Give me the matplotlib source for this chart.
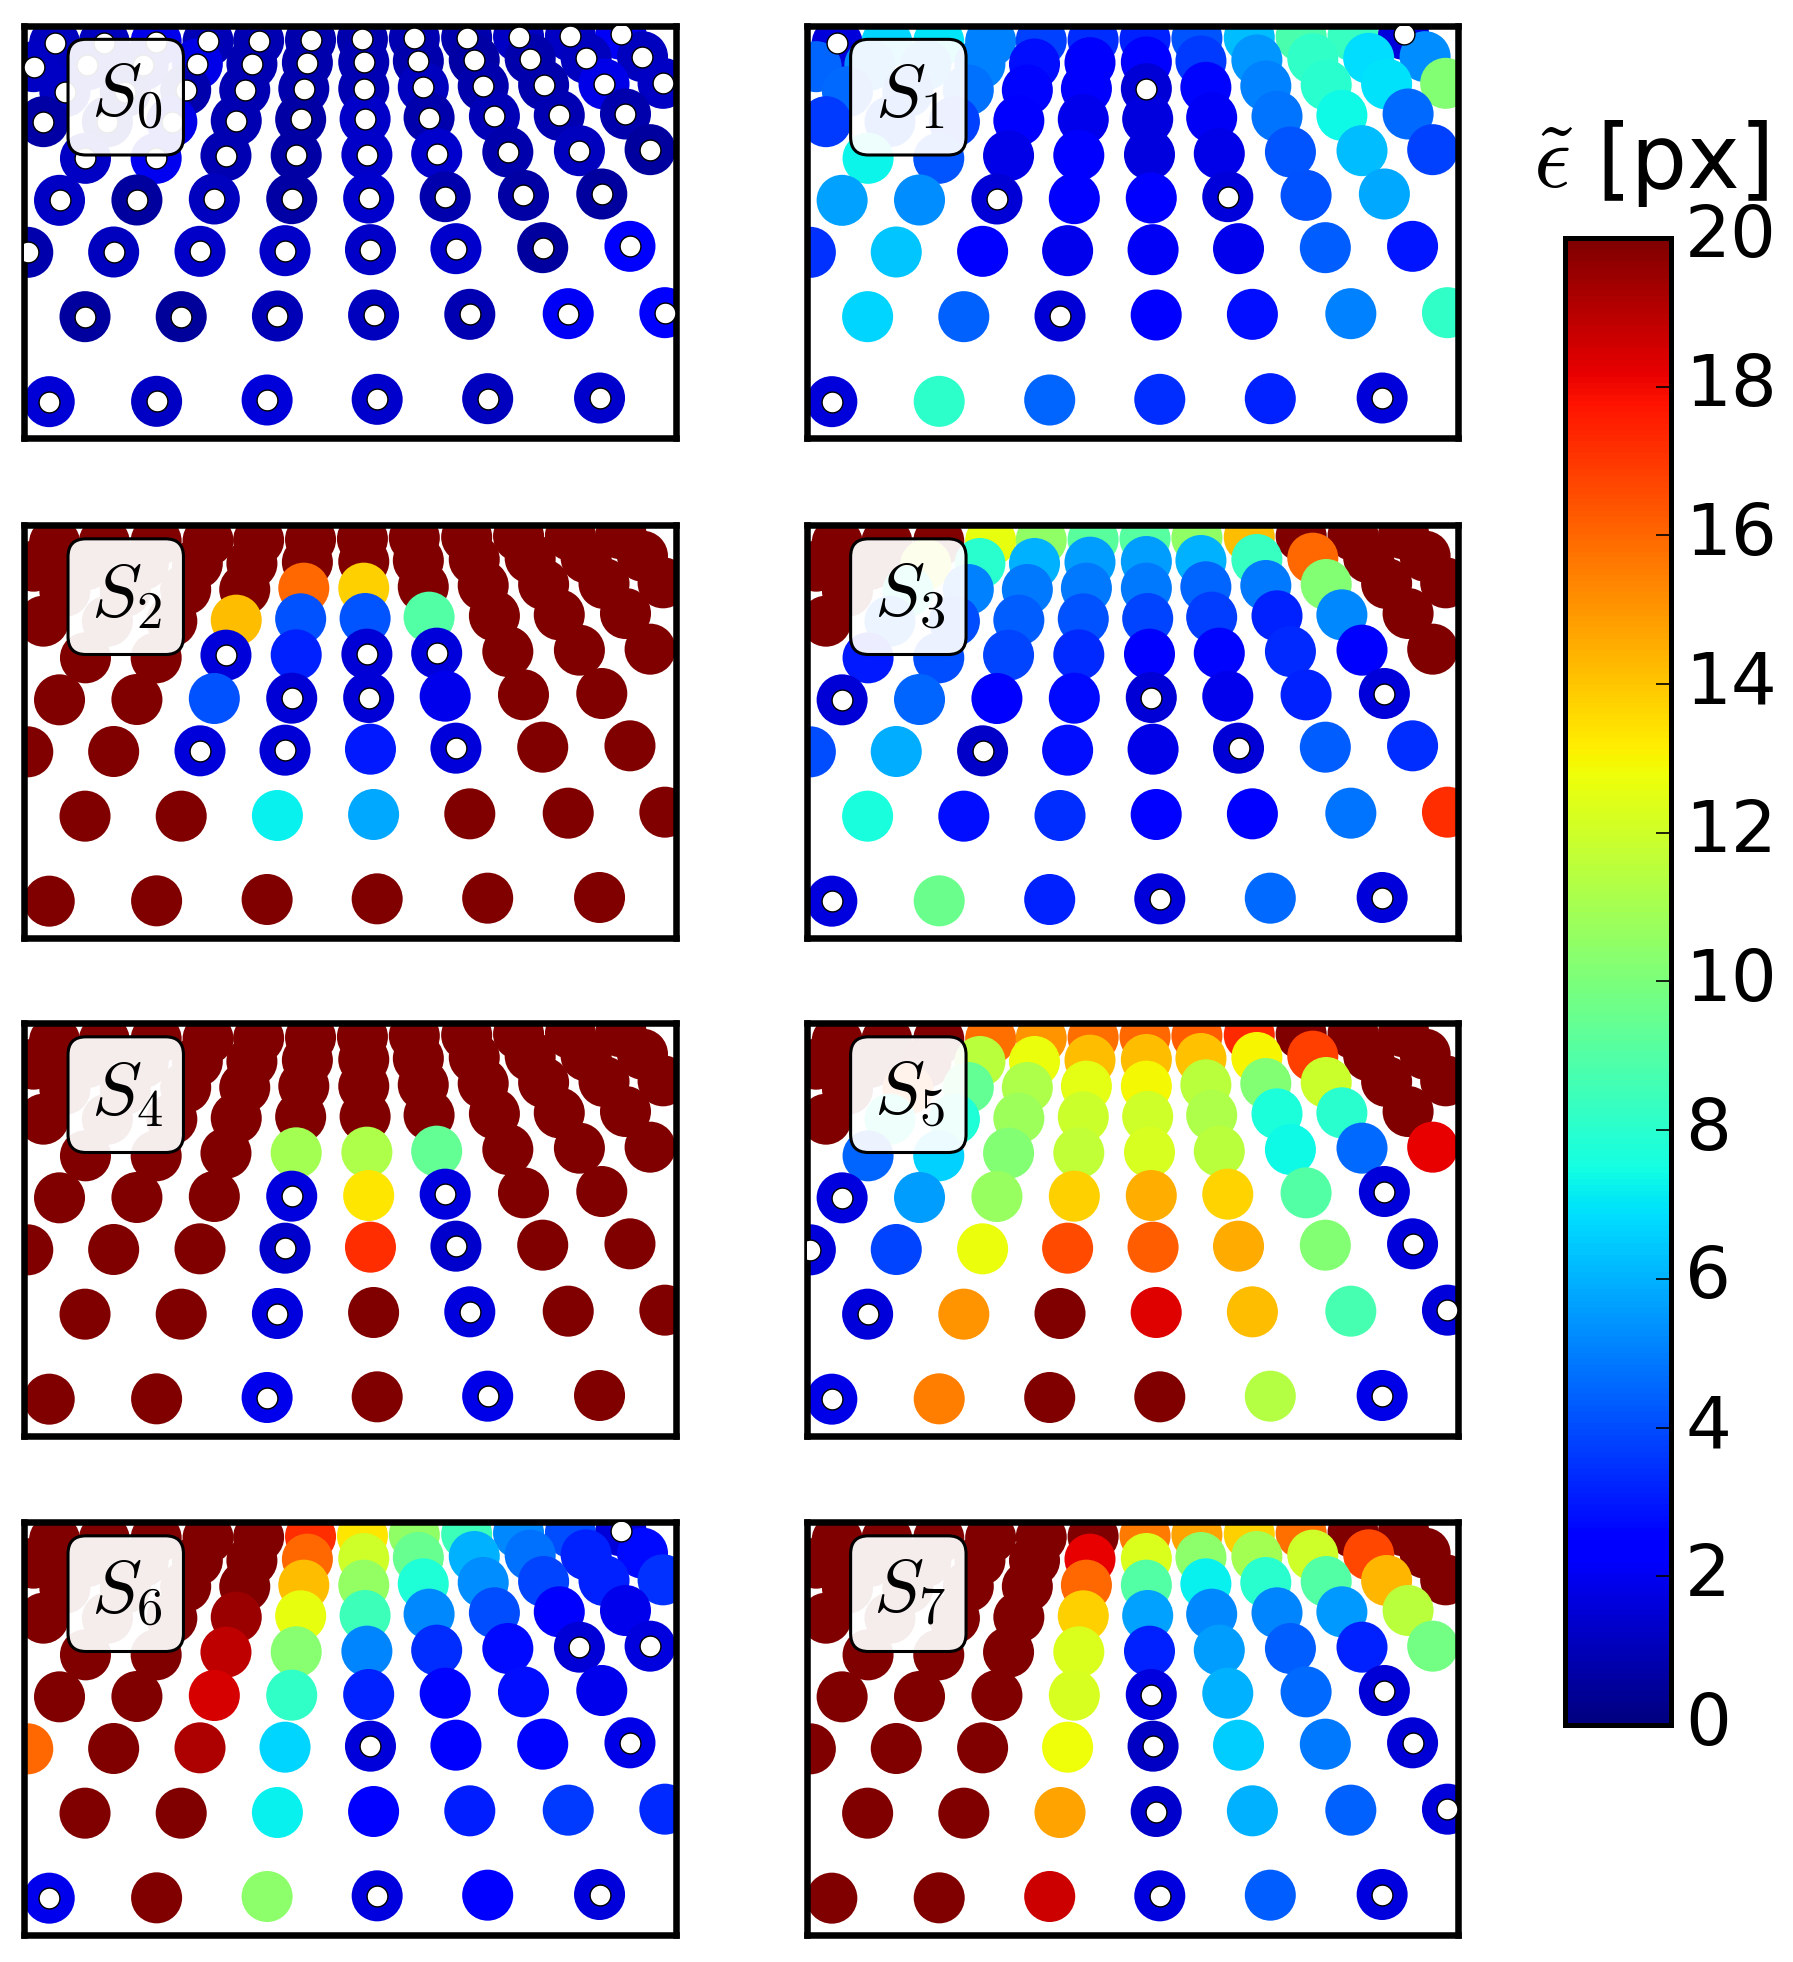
import numpy as np
from matplotlib import pyplot as plt
from matplotlib.cm import ScalarMappable
from matplotlib.colors import Normalize
from matplotlib.patches import FancyBboxPatch
from matplotlib.transforms import Affine2D

# feature positions in the image, rows from the far (top) one to the near one
row_x = [
    [122, 233, 349, 465, 578, 694, 810, 926, 1043, 1159, 1275, 1388],
    [75, 195, 320, 441, 563, 687, 813, 935, 1060, 1185, 1310, 1436],
    [145, 280, 415, 547, 679, 813, 946, 1080, 1215, 1350, 1482],
    [97, 240, 384, 528, 672, 816, 959, 1105, 1250, 1398],
    [191, 349, 505, 662, 820, 976, 1135, 1295, 1453],
    [133, 306, 479, 652, 824, 995, 1170, 1345],
    [62, 254, 447, 637, 828, 1019, 1213, 1408],
    [190, 405, 620, 835, 1050, 1270, 1486],
    [110, 350, 597, 843, 1090, 1340],
]
row_y = [
    [130, 128, 125, 124, 122, 120, 118, 115, 113, 110, 108, 103],
    [200, 195, 195, 192, 192, 188, 186, 183, 180, 176, 175, 170],
    [275, 275, 270, 270, 266, 266, 262, 258, 255, 252, 250],
    [365, 365, 365, 362, 358, 357, 353, 349, 346, 342],
    [475, 475, 467, 466, 464, 461, 456, 452, 449],
    [601, 600, 597, 596, 594, 590, 586, 582],
    [757, 756, 754, 752, 749, 746, 743, 739],
    [950, 950, 948, 945, 943, 941, 938],
    [1205, 1204, 1200, 1198, 1196, 1194],
]

# error in px per feature, a negative value is a feature marked as inlier
S0 = [
    [-1.1, -1.1, -1.9, -1.0, -0.9, -0.8, -0.8, -0.9, -0.8, -1.2, -1.2, -2.1],
    [-1.2, -1.1, -1.1, -1.8, -0.9, -0.8, -0.9, -0.8, -0.7, -0.8, -1.1, -1.1],
    [-1.2, -1.0, -0.8, -0.9, -0.8, -0.9, -1.1, -0.8, -0.8, -1.8, -1.2],
    [-0.7, -0.9, -1.8, -0.9, -0.7, -1.3, -0.8, -1.0, -0.9, -0.8],
    [-1.2, -2.0, -0.9, -0.7, -1.3, -1.4, -0.8, -1.1, -0.6],
    [-1.2, -0.6, -1.1, -0.7, -1.4, -0.8, -0.7, -0.6],
    [-0.8, -1.1, -1.3, -1.3, -1.3, -1.4, -0.6, -2.2],
    [-0.6, -0.5, -1.0, -1.1, -0.9, -2.1, -2.2],
    [-1.5, -1.2, -1.6, -1.4, -1.1, -1.4],
]
S1 = [
    [-1.6, 6.7, 7.0, 5.0, 3.8, 3.4, 3.2, 4.2, 6.2, 8.8, 8.3, -1.6],
    [4.5, 5.2, 5.2, 5.0, 2.8, 2.3, 2.5, 3.6, 5.4, 8.2, 6.8, 5.3],
    [4.6, 4.5, 4.7, 2.6, 2.4, -1.5, 2.6, 5.0, 8.0, 6.9, 10.2],
    [3.6, 4.0, 3.8, 2.3, 1.9, 1.7, 2.1, 4.8, 7.4, 4.6],
    [7.3, 4.2, 1.8, 2.3, 1.7, 1.8, 4.2, 6.2, 3.8],
    [5.7, 5.3, -1.5, 2.2, 2.3, -1.6, 4.1, 5.8],
    [3.5, 6.4, 2.3, 1.9, 2.1, 1.9, 4.3, 2.9],
    [6.7, 4.4, -1.5, 2.3, 2.8, 5.0, 8.2],
    [-1.6, 8.1, 4.5, 3.4, 3.2, -1.6],
]
S2 = [
    [20, 20, 20, 20, 20, 20, 20, 20, 20, 20, 20, 20],
    [20, 20, 20, 20, 20, 20, 20, 20, 20, 20, 20, 20],
    [20, 20, 20, 20, 16.0, 13.8, 20, 20, 20, 20, 20],
    [20, 20, 20, 14.2, 4.1, 4.2, 9.0, 20, 20, 20],
    [20, 20, -1.6, 3.2, -1.5, -1.6, 20, 20, 20],
    [20, 20, 4.1, -1.5, -1.5, 1.9, 20, 20],
    [20, 20, -1.6, -1.5, 3.0, -1.6, 20, 20],
    [20, 20, 7.2, 5.8, 20, 20, 20],
    [20, 20, 20, 20, 20, 20],
]
S3 = [
    [20, 20, 20, 12.6, 10.5, 9.2, 9.1, 10.5, 14.2, 20, 20, 20],
    [20, 20, 13.0, 8.0, 6.0, 5.6, 5.6, 6.0, 8.3, 16.0, 20, 20],
    [20, 8.0, 5.0, 4.9, 4.9, 4.9, 4.5, 4.9, 10.2, 20, 20],
    [20, 5.0, 4.0, 4.3, 4.1, 3.9, 3.7, 3.2, 5.2, 20],
    [3.0, 4.0, 3.9, 3.3, 2.2, 2.6, 3.3, 2.3, 20],
    [-1.5, 4.5, 2.3, 2.7, -1.5, 1.9, 3.2, -1.6],
    [4.0, 5.9, -1.3, 2.8, 1.8, -1.5, 4.3, 3.4],
    [7.6, 2.8, 3.4, 2.5, 2.3, 4.8, 17.2],
    [-1.7, 9.6, 3.2, -1.6, 4.6, -1.6],
]
S4 = [
    [20, 20, 20, 20, 20, 20, 20, 20, 20, 20, 20, 20],
    [20, 20, 20, 20, 20, 20, 20, 20, 20, 20, 20, 20],
    [20, 20, 20, 20, 20, 20, 20, 20, 20, 20, 20],
    [20, 20, 20, 20, 20, 20, 20, 20, 20, 20],
    [20, 20, 20, 11.0, 11.2, 9.4, 20, 20, 20],
    [20, 20, 20, -1.7, 13.3, -1.7, 20, 20],
    [20, 20, 20, -1.4, 17.2, -1.4, 20, 20],
    [20, 20, -1.7, 20, -1.7, 20, 20],
    [20, 20, -1.9, 20, -1.8, 20],
]
S5 = [
    [20, 20, 20, 15.8, 15.0, 15.8, 16.0, 16.2, 17.3, 20, 20, 20],
    [20, 20, 19.5, 11.5, 12.7, 14.2, 14.2, 14.1, 13.0, 16.8, 20, 20],
    [20, 16.0, 9.4, 11.2, 12.5, 12.9, 11.5, 10.2, 11.9, 20, 20],
    [20, 8.0, 7.8, 10.8, 11.9, 12.0, 11.2, 7.7, 8.0, 20],
    [4.5, 6.6, 10.2, 11.7, 12.2, 11.5, 7.4, 4.6, 18.2],
    [-1.7, 5.6, 10.7, 13.8, 14.5, 13.7, 9.0, -1.6],
    [-1.6, 3.9, 12.7, 16.6, 16.2, 14.6, 10.2, -1.6],
    [-1.6, 15.0, 20, 18.3, 14.2, 8.7, -1.6],
    [-1.8, 15.5, 20, 20, 11.4, -1.8],
]
S6 = [
    [20, 20, 20, 20, 20, 17.2, 13.3, 10.5, 8.5, 5.2, 4.0, -1.6],
    [20, 20, 20, 20, 20, 16.0, 12.0, 9.5, 6.0, 4.7, 3.2, 2.7],
    [20, 20, 20, 20, 14.2, 10.6, 7.8, 5.3, 3.9, 3.2, 3.5],
    [20, 20, 20, 19.5, 12.6, 8.5, 5.2, 4.0, 2.4, 1.9],
    [20, 20, 18.9, 10.3, 5.1, 3.4, 2.7, -1.5, -1.7],
    [20, 20, 18.5, 8.2, 3.2, 2.6, 2.8, 1.9],
    [16.0, 20, 19.2, 6.7, -1.6, 2.3, 2.6, -1.8],
    [20, 20, 7.2, 2.3, 3.1, 3.6, 3.3],
    [-1.9, 20, 10.4, -1.7, 2.3, -1.6],
]
S7 = [
    [20, 20, 20, 20, 20, 20, 15.6, 14.7, 13.8, 15.8, 20, 20],
    [20, 20, 20, 20, 20, 18.2, 12.3, 10.4, 11.0, 12.0, 16.7, 20],
    [20, 20, 20, 20, 16.0, 9.0, 7.2, 8.0, 9.0, 14.3, 20],
    [20, 20, 20, 20, 13.8, 5.7, 5.2, 5.1, 5.5, 11.5],
    [20, 20, 20, 12.3, 3.2, 5.6, 4.3, 3.2, 9.8],
    [20, 20, 20, 12.2, -1.7, 6.0, 4.6, -1.5],
    [20, 20, 20, 12.8, -1.2, 6.5, 4.9, -1.5],
    [20, 20, 14.7, -1.4, 6.0, 4.4, -1.6],
    [20, 20, 18.6, -1.7, 4.3, -1.7],
]
panels = [S0, S1, S2, S3, S4, S5, S6, S7]
cbar_ticks = [0, 2, 4, 6, 8, 10, 12, 14, 16, 18, 20]

W, H = 1793, 1962
col_left = [24.4, 807]
row_top = [25.5, 525, 1023, 1522]
AX_W, AX_H = 651.2, 412.5

plt.rcParams['mathtext.fontset'] = 'dejavusans'
fig = plt.figure(figsize=(W / 100, H / 100), dpi=100)


def px_axes(left, top, width, height):
    return fig.add_axes([left / W, 1 - (top + height) / H, width / W, height / H])


norm = Normalize(0, 20)

for i, vals in enumerate(panels):
    ax = px_axes(col_left[i % 2], row_top[i // 2], AX_W, AX_H)
    x = np.concatenate(row_x)
    y = np.concatenate(row_y)
    v = np.concatenate(vals).astype(float)
    ax.scatter(x, y, c=np.abs(v), s=1350, cmap='jet', norm=norm, linewidths=0, zorder=2)
    ax.scatter(x[v < 0], y[v < 0], c='white', s=225, edgecolors='black', linewidths=1.0, zorder=3)
    ax.set_xlim(54.5, 1510)
    ax.set_ylim(1314, 76.5)
    ax.set_xticks([])
    ax.set_yticks([])
    for spine in ax.spines.values():
        spine.set_linewidth(4.7)
    ax.add_patch(FancyBboxPatch((152, 118), 258, 347, boxstyle='round,pad=0,rounding_size=40',
                                mutation_aspect=1.342, facecolor=(1, 1, 1, 0.93),
                                edgecolor='black', linewidth=2.2, zorder=4))
    ax.text(284, 288, f'$S_{i}$', fontsize=54, ha='center', va='center', math_fontfamily='cm', zorder=5)

cax = px_axes(1565, 238, 106, 1487)
cb = fig.colorbar(ScalarMappable(norm=norm, cmap='jet'), cax=cax, ticks=cbar_ticks)
cb.outline.set_linewidth(3.6)
cax.tick_params(direction='in', length=11, width=1.2, labelsize=52, pad=8)
for label in cax.get_yticklabels():
    label.set_transform(label.get_transform() + Affine2D().translate(3, 7.5))

fig.text(1533 / W, 1 - 188 / H, r'$\tilde{\epsilon}$', fontsize=66, ha='left', va='baseline', math_fontfamily='cm')
fig.text(1596 / W, 1 - 188 / H, '[px]', fontsize=64, ha='left', va='baseline')

plt.savefig('out.png', dpi=100)
